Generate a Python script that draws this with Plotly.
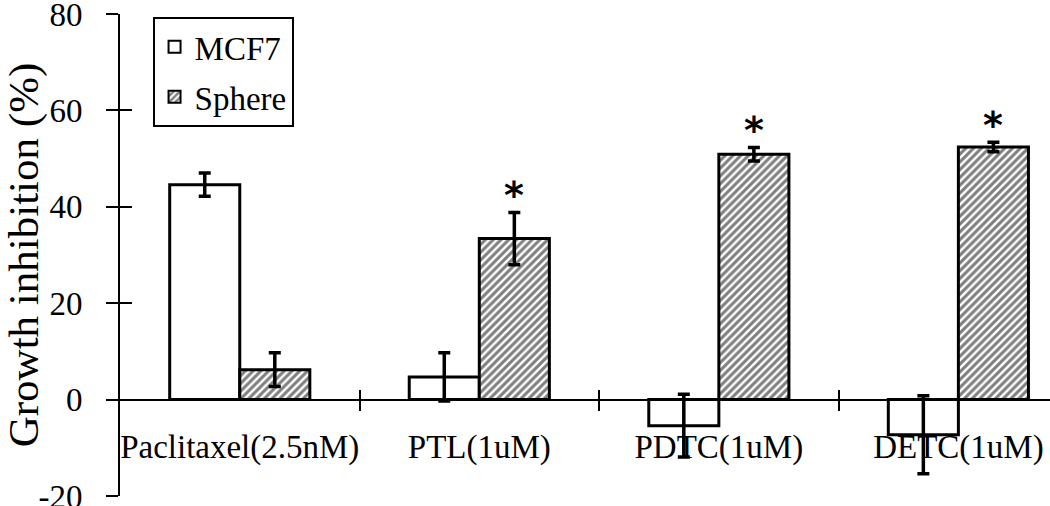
import plotly.graph_objects as go

categories = ["Paclitaxel(2.5nM)", "PTL(1uM)", "PDTC(1uM)", "DETC(1uM)"]
mcf7_values = [44.6, 4.7, -5.4, -7.3]
mcf7_errors = [2.4, 5.0, 6.5, 8.1]
sphere_values = [6.2, 33.4, 50.9, 52.4]
sphere_errors = [3.5, 5.4, 1.4, 1.0]
sphere_significant = [False, True, True, True]
y_ticks = [-20, 0, 20, 40, 60, 80]
y_tick_text = ["-20", "0", "20", "40", "60", "80"]
boundary_ticks = [0.5, 1.5, 2.5]

FONT = "Liberation Serif"
xpos = list(range(len(categories)))

fig = go.Figure()
fig.add_trace(go.Bar(
    x=xpos, y=mcf7_values, name="MCF7", legendgroup="a",
    marker=dict(color="white", line=dict(color="black", width=3)),
    error_y=dict(type="data", array=mcf7_errors, color="black", thickness=3.5, width=6),
))
fig.add_trace(go.Bar(
    x=xpos, y=sphere_values, name="Sphere", legendgroup="b",
    marker=dict(color="white", line=dict(color="black", width=3),
                pattern=dict(shape="/", fgcolor="black", bgcolor="white", size=5.5, solidity=0.55)),
    error_y=dict(type="data", array=sphere_errors, color="black", thickness=3.5, width=6),
))
# empty helper traces so overlay axes are drawn
fig.add_trace(go.Scatter(x=[None], y=[None], xaxis="x2", yaxis="y", showlegend=False, hoverinfo="skip"))
fig.add_trace(go.Scatter(x=[None], y=[None], xaxis="x3", yaxis="y", showlegend=False, hoverinfo="skip"))
fig.add_trace(go.Scatter(x=[None], y=[None], xaxis="x", yaxis="y2", showlegend=False, hoverinfo="skip"))

bar_w = 0.2925
for i, sig in enumerate(sphere_significant):
    if sig:
        fig.add_annotation(x=xpos[i] + bar_w / 2, y=sphere_values[i] + sphere_errors[i] + 4.7,
                           xref="x", yref="y", text="<b>*</b>", showarrow=False,
                           font=dict(family="DejaVu Sans", size=38, color="black"),
                           yanchor="middle", yshift=-5)

xr = [-0.5, 3.3825]
fig.update_layout(
    width=1050, height=506,
    margin=dict(l=120, r=0, t=14, b=10, autoexpand=False),
    paper_bgcolor="white", plot_bgcolor="white",
    barmode="group", bargap=0.415, bargroupgap=0,
    font=dict(family=FONT, size=33, color="black"),
    showlegend=True,
    legend=dict(x=0.035, y=0.994, xanchor="left", yanchor="top",
                bordercolor="black", borderwidth=2, bgcolor="white",
                font=dict(family=FONT, size=33), traceorder="grouped",
                tracegroupgap=4, itemsizing="constant"),
    xaxis=dict(range=xr, tickvals=xpos, ticktext=categories, ticks="",
               anchor="free", position=0.2, showline=True, linecolor="black", linewidth=2,
               showgrid=False, zeroline=False, ticklabelstandoff=18, automargin=False,
               ticklabeloverflow="allow",
               tickfont=dict(family=FONT, size=33)),
    xaxis2=dict(range=xr, overlaying="x", matches="x", anchor="free", position=0.2,
                tickvals=boundary_ticks, ticks="outside", ticklen=10, tickwidth=2, tickcolor="black",
                showticklabels=False, showline=False, showgrid=False, zeroline=False, automargin=False),
    xaxis3=dict(range=xr, overlaying="x", matches="x", anchor="free", position=0.2,
                tickvals=boundary_ticks, ticks="inside", ticklen=10, tickwidth=2, tickcolor="black",
                showticklabels=False, showline=False, showgrid=False, zeroline=False, automargin=False),
    yaxis=dict(range=[-20, 80], tickvals=y_ticks, ticktext=y_tick_text, ticks="outside",
               ticklen=12, tickwidth=2,
               tickcolor="black", showline=True, linecolor="black", linewidth=2,
               showgrid=False, zeroline=False, ticklabelstandoff=17, automargin=False,
               ticklabeloverflow="allow",
               title=dict(text="Growth inhibition (%)", standoff=0,
                          font=dict(family=FONT, size=43)),
               tickfont=dict(family=FONT, size=33)),
    yaxis2=dict(range=[-20, 80], overlaying="y", matches="y", anchor="x", side="left",
                tickvals=y_ticks, ticks="inside", ticklen=12, tickwidth=2, tickcolor="black",
                showticklabels=False, showline=False, showgrid=False, zeroline=False, automargin=False),
)

fig.write_html("out.html", config={"displayModeBar": False},
               post_script="document.body.style.margin='0';")
